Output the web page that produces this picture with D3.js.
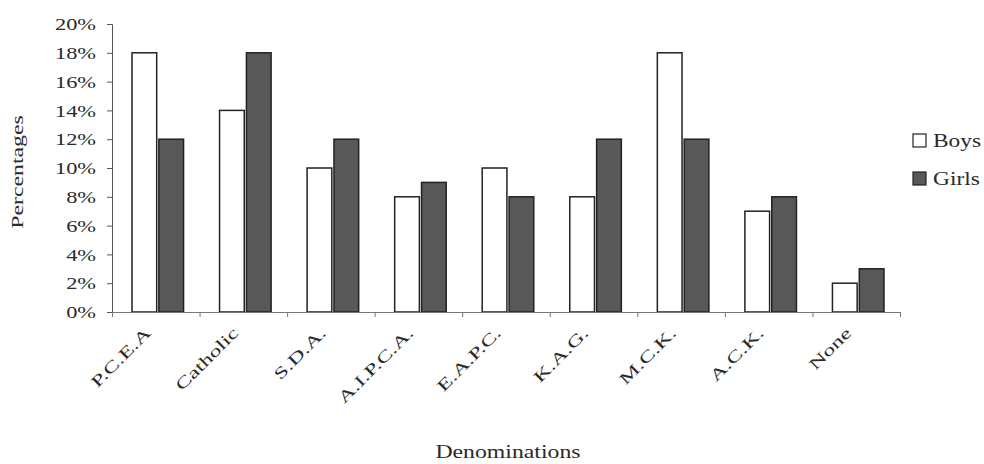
<html>
<script src="https://d3js.org/d3.v7.min.js"></script>
<style>
body { margin:0; background:#fff; }
text { font-family: "Liberation Serif", "DejaVu Serif", serif; fill:#2a2a2a; }
</style>
<body>
<svg width="984" height="464"></svg>
<script>
// data
const categories = ["P.C.E.A","Catholic","S.D.A.","A.I.P.C.A.","E.A.P.C.","K.A.G.","M.C.K.","A.C.K.","None"];
const boys  = [18,14,10,8,10,8,18,7,2];
const girls = [12,18,12,9,8,12,12,8,3];
const yTicks = [0,2,4,6,8,10,12,14,16,18,20];
const seriesNames = ["Boys","Girls"];
const seriesFill = ["#ffffff","#585858"];

const svg = d3.select("svg");
const plotLeft = 112, plotRight = 900, plotTop = 24, plotBottom = 312;

// the scan's text is wide along its baseline, stretch it a bit
function widen(sel, k) {
  sel.each(function() {
    const w = this.getComputedTextLength();
    d3.select(this).attr("textLength", w * k).attr("lengthAdjust", "spacingAndGlyphs");
  });
}

var x = d3.scaleBand().domain(categories).range([plotLeft, plotRight]);
var xs = d3.scaleBand().domain(seriesNames).range([20, x.bandwidth() - 16]).paddingInner(0.08);
var y = d3.scaleLinear().domain([0, 20]).range([plotBottom, plotTop]);

// y axis
var yAxis = svg.append("g")
  .attr("transform", "translate(" + plotLeft + ",0)")
  .call(d3.axisLeft(y).tickValues(yTicks).tickSize(5).tickFormat(d => d + "%"));
yAxis.select(".domain").attr("stroke", "#555");
yAxis.selectAll(".tick line").attr("stroke", "#555");
yAxis.selectAll(".tick text")
  .attr("x", -16).attr("dy", "0.35em")
  .style("font-size", "16px").attr("fill", "#2a2a2a");
widen(yAxis.selectAll(".tick text"), 1.4);

// bars
var rows = categories.map((c, i) => ({cat: c, vals: [boys[i], girls[i]]}));
var groups = svg.append("g").selectAll("g")
  .data(rows).enter().append("g")
  .attr("transform", d => "translate(" + x(d.cat) + ",0)");

groups.selectAll("rect")
  .data(d => d.vals.map((v, j) => ({s: seriesNames[j], v: v, j: j})))
  .enter().append("rect")
  .attr("x", d => xs(d.s))
  .attr("y", d => y(d.v))
  .attr("width", xs.bandwidth())
  .attr("height", d => y(0) - y(d.v))
  .attr("fill", d => seriesFill[d.j])
  .attr("stroke", "#222")
  .attr("stroke-width", 1.5);

// x axis: line and boundary ticks
var xb = d3.scaleLinear().domain([0, categories.length]).range([plotLeft, plotRight]);
var xAxis = svg.append("g")
  .attr("transform", "translate(0," + plotBottom + ")")
  .call(d3.axisBottom(xb).ticks(categories.length).tickSize(5).tickSizeOuter(0).tickFormat(""));
xAxis.select(".domain").attr("stroke", "#777");
xAxis.selectAll(".tick line").attr("stroke", "#777");

// category labels, rotated
var xl = svg.append("g").selectAll("text")
  .data(categories).enter().append("text")
  .attr("transform", d => "translate(" + (x(d) + x.bandwidth() / 2 - 4) + "," + (plotBottom + 22) + ") rotate(-45)")
  .attr("text-anchor", "end")
  .style("font-size", "16px")
  .text(d => d);
widen(xl, 1.5);

// axis titles
var xt = svg.append("text")
  .attr("x", (plotLeft + plotRight) / 2 + 2).attr("y", 458)
  .attr("text-anchor", "middle")
  .style("font-size", "19px")
  .text("Denominations");
widen(xt, 1.25);

var yt = svg.append("text")
  .attr("transform", "translate(23,172) rotate(-90)")
  .attr("text-anchor", "middle")
  .style("font-size", "17px")
  .text("Percentages");
widen(yt, 1.4);

// legend
var lg = svg.append("g").selectAll("g")
  .data(seriesNames).enter().append("g")
  .attr("transform", (d, i) => "translate(913," + (134 + i * 38) + ")");
lg.append("rect")
  .attr("width", 13).attr("height", 13)
  .attr("fill", (d, i) => seriesFill[i])
  .attr("stroke", "#222").attr("stroke-width", 1.2);
var lt = lg.append("text")
  .attr("x", 20).attr("y", 13)
  .style("font-size", "18px")
  .text(d => d);
widen(lt, 1.3);
</script>
</body>
</html>
